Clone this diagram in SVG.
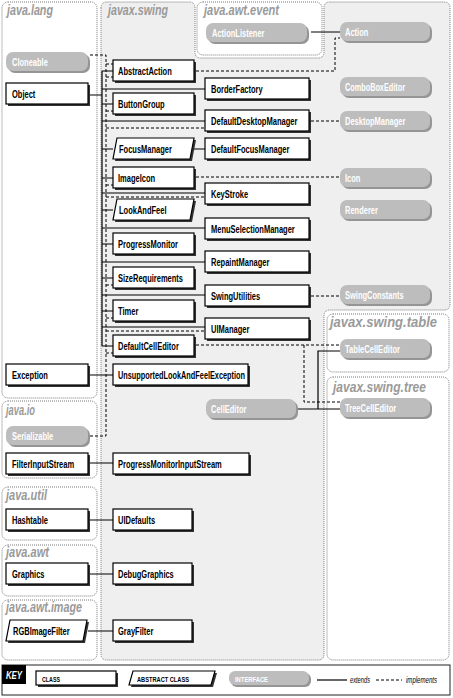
<svg xmlns="http://www.w3.org/2000/svg" width="453" height="698" viewBox="0 0 453 698">
<style>
.pkg{fill:#fff;stroke:#7a7a7a;stroke-width:1;stroke-dasharray:1 1}
.sw{fill:#efefef;stroke:#7a7a7a;stroke-width:1;stroke-dasharray:1 1}
.pl{font-family:"Liberation Sans",Arial,sans-serif;font-weight:bold;font-style:italic;font-size:14px;fill:#9a9a9a}
.box{fill:#fff;stroke:#000;stroke-width:1.2}
.sh{fill:#333}
.pill{fill:#bdbdbd}
.psh{fill:#959595}
.t{font-family:"Liberation Sans",Arial,sans-serif;font-weight:bold;font-size:10px;fill:#000}
.tw{font-family:"Liberation Sans",Arial,sans-serif;font-weight:bold;font-size:10px;fill:#fff}
.kt{font-family:"Liberation Sans",Arial,sans-serif;font-weight:bold;font-size:8px;fill:#000}
.ki{font-family:"Liberation Sans",Arial,sans-serif;font-style:italic;font-size:9px;fill:#000}
.ext{fill:none;stroke:#000;stroke-width:1.2}
.imp{fill:none;stroke:#000;stroke-width:1;stroke-dasharray:3 2}
</style>
<g id="packages">
<path class="sw" d="M101,8 Q101,2 107,2 H189 Q195,2 195,8 V52 Q195,58 201,58 H318 Q324,58 324,52 V8 Q324,2 330,2 H444 Q450,2 450,8 V304 Q450,310 444,310 H330 Q324,310 324,316 V654 Q324,660 318,660 H107 Q101,660 101,654 Z"/>
<text class="pl" x="108" y="15" textLength="60" lengthAdjust="spacingAndGlyphs">javax.swing</text>
<rect class="pkg" x="2" y="2" width="95" height="396" rx="6"/>
<text class="pl" x="7" y="15" textLength="46" lengthAdjust="spacingAndGlyphs">java.lang</text>
<rect class="pkg" x="197" y="2" width="125" height="53" rx="6"/>
<text class="pl" x="204" y="15" textLength="75" lengthAdjust="spacingAndGlyphs">java.awt.event</text>
<rect class="pkg" x="2" y="401" width="95" height="77" rx="6"/>
<text class="pl" x="6" y="415" textLength="29" lengthAdjust="spacingAndGlyphs">java.io</text>
<rect class="pkg" x="2" y="487" width="95" height="53" rx="6"/>
<text class="pl" x="6" y="500" textLength="41" lengthAdjust="spacingAndGlyphs">java.util</text>
<rect class="pkg" x="2" y="545" width="95" height="51" rx="6"/>
<text class="pl" x="6" y="557" textLength="43" lengthAdjust="spacingAndGlyphs">java.awt</text>
<rect class="pkg" x="2" y="600" width="95" height="60" rx="6"/>
<text class="pl" x="6" y="612" textLength="76" lengthAdjust="spacingAndGlyphs">java.awt.image</text>
<rect class="pkg" x="327" y="314" width="122" height="58" rx="6"/>
<text class="pl" x="330" y="327" textLength="107" lengthAdjust="spacingAndGlyphs">javax.swing.table</text>
<rect class="pkg" x="327" y="377" width="122" height="283" rx="6"/>
<text class="pl" x="333" y="392" textLength="93" lengthAdjust="spacingAndGlyphs">javax.swing.tree</text>
</g>
<g id="connectors">
<path class="ext" d="M90,95 H102 M102,71 V346 M102,71 H113 M102,104 H113 M102,149 H113 M102,178 H113 M102,210 H113 M102,244 H113 M102,278 H113 M102,311 H113 M102,346 H113"/>
<path class="ext" d="M102,89 H205 M102,121 H205 M102,193 H205 M102,228 H205 M102,262 H205 M102,295 H205 M102,327 H205"/>
<path class="ext" d="M192,149 H205 M311,32 H340 M298,409 H318 V351 H340 M318,409 H340"/>
<path class="ext" d="M90,375 H113 M90,463 H113 M90,520 H113 M90,574 H113 M88,631 H113"/>
<path class="imp" d="M90,55 H106 V436 H90"/>
<path class="imp" d="M106,64 H113 M106,77 H113 M106,111 H113 M106,128 H205 M106,185 H113 M106,197 H205 M106,285 H113 M106,318 H113 M106,331 H205 M106,353 H113"/>
<path class="imp" d="M196,71 H335 V38 H340 M311,121 H340 M196,177 H340 M311,296 H340 M196,345 H340 M304,345 V402 H340"/>
</g>
<g id="n-Cloneable"><rect class="psh" x="8" y="54" width="82" height="19" rx="7"/><rect class="pill" x="6" y="52" width="82" height="19" rx="7"/><text class="tw" x="12" y="65.5" textLength="35.8" lengthAdjust="spacingAndGlyphs">Cloneable</text></g>
<g id="n-Object"><rect class="sh" x="8" y="85" width="82" height="21"/><rect class="box" x="6" y="83" width="82" height="21"/><text class="t" x="12" y="97.5" textLength="23.3" lengthAdjust="spacingAndGlyphs">Object</text></g>
<g id="n-Exception"><rect class="sh" x="8" y="366" width="82" height="21"/><rect class="box" x="6" y="364" width="82" height="21"/><text class="t" x="12" y="378.5" textLength="35.9" lengthAdjust="spacingAndGlyphs">Exception</text></g>
<g id="n-Serializable"><rect class="psh" x="8" y="428" width="82" height="19" rx="7"/><rect class="pill" x="6" y="426" width="82" height="19" rx="7"/><text class="tw" x="12" y="439.5" textLength="41.3" lengthAdjust="spacingAndGlyphs">Serializable</text></g>
<g id="n-FilterInputStream"><rect class="sh" x="8" y="455" width="82" height="21"/><rect class="box" x="6" y="453" width="82" height="21"/><text class="t" x="12" y="467.5" textLength="62.1" lengthAdjust="spacingAndGlyphs">FilterInputStream</text></g>
<g id="n-Hashtable"><rect class="sh" x="8" y="511" width="82" height="21"/><rect class="box" x="6" y="509" width="82" height="21"/><text class="t" x="12" y="523.5" textLength="35.9" lengthAdjust="spacingAndGlyphs">Hashtable</text></g>
<g id="n-Graphics"><rect class="sh" x="8" y="565" width="82" height="21"/><rect class="box" x="6" y="563" width="82" height="21"/><text class="t" x="12" y="577.5" textLength="32.5" lengthAdjust="spacingAndGlyphs">Graphics</text></g>
<g id="n-RGBImageFilter"><path class="sh" d="M12,622 H89 L85,643 H8 Z"/><path class="box" d="M10,620 H87 L83,641 H6 Z"/><text class="t" x="13" y="634.5" textLength="56.7" lengthAdjust="spacingAndGlyphs">RGBImageFilter</text></g>
<g id="n-AbstractAction"><rect class="sh" x="115" y="62" width="81" height="21"/><rect class="box" x="113" y="60" width="81" height="21"/><text class="t" x="118" y="74.5" textLength="53.8" lengthAdjust="spacingAndGlyphs">AbstractAction</text></g>
<g id="n-ButtonGroup"><rect class="sh" x="115" y="95" width="81" height="21"/><rect class="box" x="113" y="93" width="81" height="21"/><text class="t" x="118" y="107.5" textLength="46.7" lengthAdjust="spacingAndGlyphs">ButtonGroup</text></g>
<g id="n-FocusManager"><path class="sh" d="M119,140 H196 L192,161 H115 Z"/><path class="box" d="M117,138 H194 L190,159 H113 Z"/><text class="t" x="119" y="152.5" textLength="52.9" lengthAdjust="spacingAndGlyphs">FocusManager</text></g>
<g id="n-ImageIcon"><rect class="sh" x="115" y="169" width="81" height="21"/><rect class="box" x="113" y="167" width="81" height="21"/><text class="t" x="118" y="181.5" textLength="37.1" lengthAdjust="spacingAndGlyphs">ImageIcon</text></g>
<g id="n-LookAndFeel"><path class="sh" d="M119,201 H196 L192,222 H115 Z"/><path class="box" d="M117,199 H194 L190,220 H113 Z"/><text class="t" x="119" y="213.5" textLength="47.5" lengthAdjust="spacingAndGlyphs">LookAndFeel</text></g>
<g id="n-ProgressMonitor"><rect class="sh" x="115" y="235" width="81" height="21"/><rect class="box" x="113" y="233" width="81" height="21"/><text class="t" x="118" y="247.5" textLength="60" lengthAdjust="spacingAndGlyphs">ProgressMonitor</text></g>
<g id="n-SizeRequirements"><rect class="sh" x="115" y="269" width="81" height="21"/><rect class="box" x="113" y="267" width="81" height="21"/><text class="t" x="118" y="281.5" textLength="65" lengthAdjust="spacingAndGlyphs">SizeRequirements</text></g>
<g id="n-Timer"><rect class="sh" x="115" y="302" width="81" height="21"/><rect class="box" x="113" y="300" width="81" height="21"/><text class="t" x="118" y="314.5" textLength="20.4" lengthAdjust="spacingAndGlyphs">Timer</text></g>
<g id="n-DefaultCellEditor"><rect class="sh" x="115" y="337" width="81" height="21"/><rect class="box" x="113" y="335" width="81" height="21"/><text class="t" x="118" y="349.5" textLength="60.8" lengthAdjust="spacingAndGlyphs">DefaultCellEditor</text></g>
<g id="n-UnsupportedLookAndFeelException"><rect class="sh" x="115" y="366" width="135" height="21"/><rect class="box" x="113" y="364" width="135" height="21"/><text class="t" x="118" y="378.5" textLength="127" lengthAdjust="spacingAndGlyphs">UnsupportedLookAndFeelException</text></g>
<g id="n-ProgressMonitorInputStream"><rect class="sh" x="115" y="455" width="136" height="21"/><rect class="box" x="113" y="453" width="136" height="21"/><text class="t" x="118" y="467.5" textLength="103.8" lengthAdjust="spacingAndGlyphs">ProgressMonitorInputStream</text></g>
<g id="n-UIDefaults"><rect class="sh" x="115" y="511" width="79" height="21"/><rect class="box" x="113" y="509" width="79" height="21"/><text class="t" x="118" y="523.5" textLength="37.1" lengthAdjust="spacingAndGlyphs">UIDefaults</text></g>
<g id="n-DebugGraphics"><rect class="sh" x="115" y="565" width="79" height="21"/><rect class="box" x="113" y="563" width="79" height="21"/><text class="t" x="118" y="577.5" textLength="55.8" lengthAdjust="spacingAndGlyphs">DebugGraphics</text></g>
<g id="n-GrayFilter"><rect class="sh" x="115" y="622" width="79" height="21"/><rect class="box" x="113" y="620" width="79" height="21"/><text class="t" x="118" y="634.5" textLength="35.4" lengthAdjust="spacingAndGlyphs">GrayFilter</text></g>
<g id="n-BorderFactory"><rect class="sh" x="207" y="80" width="104" height="21"/><rect class="box" x="205" y="78" width="104" height="21"/><text class="t" x="211" y="92.5" textLength="51.7" lengthAdjust="spacingAndGlyphs">BorderFactory</text></g>
<g id="n-DefaultDesktopManager"><rect class="sh" x="207" y="112" width="104" height="21"/><rect class="box" x="205" y="110" width="104" height="21"/><text class="t" x="211" y="124.5" textLength="86.5" lengthAdjust="spacingAndGlyphs">DefaultDesktopManager</text></g>
<g id="n-DefaultFocusManager"><rect class="sh" x="207" y="140" width="104" height="21"/><rect class="box" x="205" y="138" width="104" height="21"/><text class="t" x="211" y="152.5" textLength="78.3" lengthAdjust="spacingAndGlyphs">DefaultFocusManager</text></g>
<g id="n-KeyStroke"><rect class="sh" x="207" y="185" width="104" height="21"/><rect class="box" x="205" y="183" width="104" height="21"/><text class="t" x="211" y="197.5" textLength="37.1" lengthAdjust="spacingAndGlyphs">KeyStroke</text></g>
<g id="n-MenuSelectionManager"><rect class="sh" x="207" y="220" width="104" height="21"/><rect class="box" x="205" y="218" width="104" height="21"/><text class="t" x="211" y="232.5" textLength="83.8" lengthAdjust="spacingAndGlyphs">MenuSelectionManager</text></g>
<g id="n-RepaintManager"><rect class="sh" x="207" y="253" width="104" height="21"/><rect class="box" x="205" y="251" width="104" height="21"/><text class="t" x="211" y="265.5" textLength="58.3" lengthAdjust="spacingAndGlyphs">RepaintManager</text></g>
<g id="n-SwingUtilities"><rect class="sh" x="207" y="287" width="104" height="21"/><rect class="box" x="205" y="285" width="104" height="21"/><text class="t" x="211" y="299.5" textLength="49.2" lengthAdjust="spacingAndGlyphs">SwingUtilities</text></g>
<g id="n-UIManager"><rect class="sh" x="207" y="320" width="104" height="21"/><rect class="box" x="205" y="318" width="104" height="21"/><text class="t" x="211" y="332.5" textLength="38.3" lengthAdjust="spacingAndGlyphs">UIManager</text></g>
<g id="n-ActionListener"><rect class="psh" x="208" y="25" width="101" height="19" rx="7"/><rect class="pill" x="206" y="23" width="101" height="19" rx="7"/><text class="tw" x="212" y="36.5" textLength="52.5" lengthAdjust="spacingAndGlyphs">ActionListener</text></g>
<g id="n-Action"><rect class="psh" x="342" y="24" width="90" height="19" rx="7"/><rect class="pill" x="340" y="22" width="90" height="19" rx="7"/><text class="tw" x="345" y="35.5" textLength="23.3" lengthAdjust="spacingAndGlyphs">Action</text></g>
<g id="n-ComboBoxEditor"><rect class="psh" x="342" y="79" width="90" height="19" rx="7"/><rect class="pill" x="340" y="77" width="90" height="19" rx="7"/><text class="tw" x="345" y="90.5" textLength="60" lengthAdjust="spacingAndGlyphs">ComboBoxEditor</text></g>
<g id="n-DesktopManager"><rect class="psh" x="342" y="113" width="90" height="19" rx="7"/><rect class="pill" x="340" y="111" width="90" height="19" rx="7"/><text class="tw" x="345" y="124.5" textLength="60.4" lengthAdjust="spacingAndGlyphs">DesktopManager</text></g>
<g id="n-Icon"><rect class="psh" x="342" y="170" width="90" height="19" rx="7"/><rect class="pill" x="340" y="168" width="90" height="19" rx="7"/><text class="tw" x="345" y="181.5" textLength="15.4" lengthAdjust="spacingAndGlyphs">Icon</text></g>
<g id="n-Renderer"><rect class="psh" x="342" y="202" width="90" height="19" rx="7"/><rect class="pill" x="340" y="200" width="90" height="19" rx="7"/><text class="tw" x="345" y="213.5" textLength="32.9" lengthAdjust="spacingAndGlyphs">Renderer</text></g>
<g id="n-SwingConstants"><rect class="psh" x="342" y="287" width="90" height="19" rx="7"/><rect class="pill" x="340" y="285" width="90" height="19" rx="7"/><text class="tw" x="345" y="298.5" textLength="58.7" lengthAdjust="spacingAndGlyphs">SwingConstants</text></g>
<g id="n-TableCellEditor"><rect class="psh" x="342" y="341" width="90" height="19" rx="7"/><rect class="pill" x="340" y="339" width="90" height="19" rx="7"/><text class="tw" x="345" y="352.5" textLength="55" lengthAdjust="spacingAndGlyphs">TableCellEditor</text></g>
<g id="n-TreeCellEditor"><rect class="psh" x="342" y="400" width="90" height="19" rx="7"/><rect class="pill" x="340" y="398" width="90" height="19" rx="7"/><text class="tw" x="345" y="411.5" textLength="51.3" lengthAdjust="spacingAndGlyphs">TreeCellEditor</text></g>
<g id="n-CellEditor"><rect class="psh" x="208" y="401" width="90" height="19" rx="7"/><rect class="pill" x="206" y="399" width="90" height="19" rx="7"/><text class="tw" x="211" y="412.5" textLength="35.4" lengthAdjust="spacingAndGlyphs">CellEditor</text></g>
<g id="key">
<rect x="2" y="665" width="448" height="30" fill="#fff" stroke="#222" stroke-width="1"/>
<rect x="2" y="665" width="24" height="19" fill="#000"/>
<text x="6" y="679" font-family="Liberation Sans, Arial, sans-serif" font-weight="bold" font-style="italic" font-size="11" fill="#fff" textLength="16" lengthAdjust="spacingAndGlyphs">KEY</text>
<rect class="sh" x="38" y="673" width="80" height="14"/><rect class="box" x="36" y="671" width="80" height="14"/>
<text class="kt" x="42" y="681.5" textLength="18" lengthAdjust="spacingAndGlyphs">CLASS</text>
<path class="sh" d="M135,673 H217 L213,687 H131 Z"/><path class="box" d="M133,671 H215 L211,685 H129 Z"/>
<text class="kt" x="137" y="681.5" textLength="52" lengthAdjust="spacingAndGlyphs">ABSTRACT CLASS</text>
<rect class="psh" x="231" y="673" width="80" height="14" rx="6"/><rect class="pill" x="229" y="671" width="80" height="14" rx="6"/>
<text x="235" y="681.5" font-family="Liberation Sans, Arial, sans-serif" font-weight="bold" font-size="8" fill="#fff" textLength="33" lengthAdjust="spacingAndGlyphs">INTERFACE</text>
<path class="ext" d="M317,680 H347"/>
<text class="ki" x="350" y="682.5" textLength="20" lengthAdjust="spacingAndGlyphs">extends</text>
<path class="imp" d="M376,680 H402"/>
<text class="ki" x="406" y="682.5" textLength="31" lengthAdjust="spacingAndGlyphs">implements</text>
</g>
</svg>
